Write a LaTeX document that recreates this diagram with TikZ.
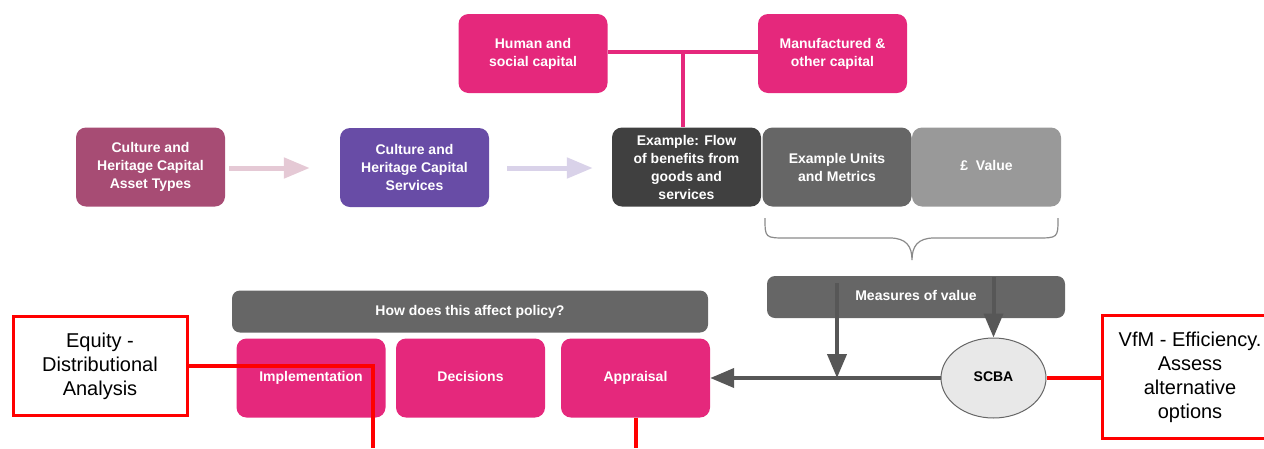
\documentclass[tikz,border=0pt]{standalone}
\usepackage{fontspec}
\setmainfont{Liberation Sans}
\usetikzlibrary{arrows.meta,shapes.geometric,calc}

\definecolor{hcpink}{HTML}{E5287C}
\definecolor{hcplum}{HTML}{A74C74}
\definecolor{hcpurple}{HTML}{684CA6}
\definecolor{hcdark}{HTML}{404040}
\definecolor{hcmid}{HTML}{666666}
\definecolor{hclight}{HTML}{999999}
\definecolor{hcarrow}{HTML}{575757}
\definecolor{hcred}{HTML}{FF0000}

\newcommand{\boxfont}{\fontsize{14}{18}\selectfont\bfseries}
\newcommand{\notefont}{\fontsize{20}{24}\selectfont}

\tikzset{
  capbox/.style={rounded corners=10pt,minimum width=149pt,minimum height=79pt,
    inner sep=0pt,align=center,text=white,font=\boxfont},
  oneline/.style={text height=10pt,text depth=3pt},
  headbar/.style={rounded corners=8pt,fill=hcmid,inner sep=0pt,oneline,
    minimum height=42pt,text=white,font=\boxfont},
  notebox/.style={draw=hcred,line width=3pt,fill=white,inner sep=0pt,
    align=center,font=\notefont},
  palearrow/.style={line width=5pt,-{Triangle[length=26pt,width=20pt]}},
  darkarrow/.style={hcarrow,line width=4pt,-{Triangle[length=24pt,width=19pt]}},
  redline/.style={hcred,line width=3.5pt},
  pinkline/.style={hcpink,line width=4pt}
}

\begin{document}
\begin{tikzpicture}[x=1pt,y=-1pt]
  \useasboundingbox (0,0) rectangle (1264,448);
  \clip (0,0) rectangle (1264,448);

  % top row
  \node[capbox,fill=hcpink] (human) at (533,53.5) {Human and\\social capital};
  \node[capbox,fill=hcpink] (manuf) at (832.5,53.5) {Manufactured \&\\other capital};

  \node[capbox,fill=hcplum] (assets) at (150.5,167) {Culture and\\Heritage Capital\\Asset Types};
  \node[capbox,fill=hcpurple] (services) at (414.5,167.5) {Culture and\\Heritage Capital\\Services};
  \node[capbox,fill=hcdark] (flow) at (686.5,167) {Example: Flow\\of benefits from\\goods and\\services};
  \node[capbox,fill=hcmid] (units) at (837,167) {Example Units\\and Metrics};
  \node[capbox,oneline,fill=hclight] (value) at (986.5,167) {£\ \ Value};

  % junction of the two capitals
  \coordinate (join) at (683,52);
  \draw[pinkline] (human.east |- join) -- (manuf.west |- join);
  \draw[pinkline] (join) -- (join |- flow.north);

  \draw[palearrow,color=hcplum!30,shorten <=4pt,shorten >=30pt]
    ($(assets.east)+(0,1)$) -- ($(services.west)+(0,0.5)$);
  \draw[palearrow,color=hcpurple!25,shorten <=18pt,shorten >=19pt]
    ($(services.east)+(0,0.5)$) -- ($(flow.west)+(0,1)$);

  % brace under units and value
  \draw[hclight!90!black,line width=1.2pt]
    (765,218) .. controls (765,238) .. (787,238) -- (890,238)
    .. controls (906,238) and (912,246) .. (912,260)
    .. controls (912,246) and (918,238) .. (934,238) -- (1036,238)
    .. controls (1058,238) .. (1058,218);

  % lower row
  \node[headbar,minimum width=298pt] (measures) at (916,297) {Measures of value};
  \node[headbar,minimum width=476pt] (policy) at (470,311.5) {How does this affect policy?};
  \node[capbox,oneline,fill=hcpink] (impl) at (311,378) {Implementation};
  \node[capbox,oneline,fill=hcpink] (decide) at (470.5,378) {Decisions};
  \node[capbox,oneline,fill=hcpink] (apprais) at (635.5,378) {Appraisal};

  \node[ellipse,draw=hcmid,line width=1pt,fill=black!9,minimum width=105pt,
    minimum height=80pt,inner sep=0pt,oneline,font=\boxfont] (scba) at (993.5,378) {SCBA};

  \draw[darkarrow] (scba.west) -- (apprais.east);
  \coordinate (m1) at (837,283);
  \draw[darkarrow] (m1) -- (m1 |- scba.center);
  \coordinate (m2) at (993.5,277);
  \draw[darkarrow] (m2) -- (scba.north);

  % red notes
  \node[notebox,minimum width=174pt,minimum height=99pt] (equity) at (100,366)
    {Equity -\\Distributional\\Analysis};
  \node[notebox,minimum width=176pt,minimum height=123pt] (vfm) at (1190,377)
    {VfM - Efficiency.\\Assess\\alternative\\options};

  \coordinate (eqend) at (373,448);
  \coordinate (apend) at (636,448);
  \draw[redline] (equity.east) -- (eqend |- equity.east) -- (eqend);
  \draw[redline] (apprais.south -| apend) -- (apend);
  \draw[redline] (scba.east) -- (vfm.west |- scba.east);
\end{tikzpicture}
\end{document}
